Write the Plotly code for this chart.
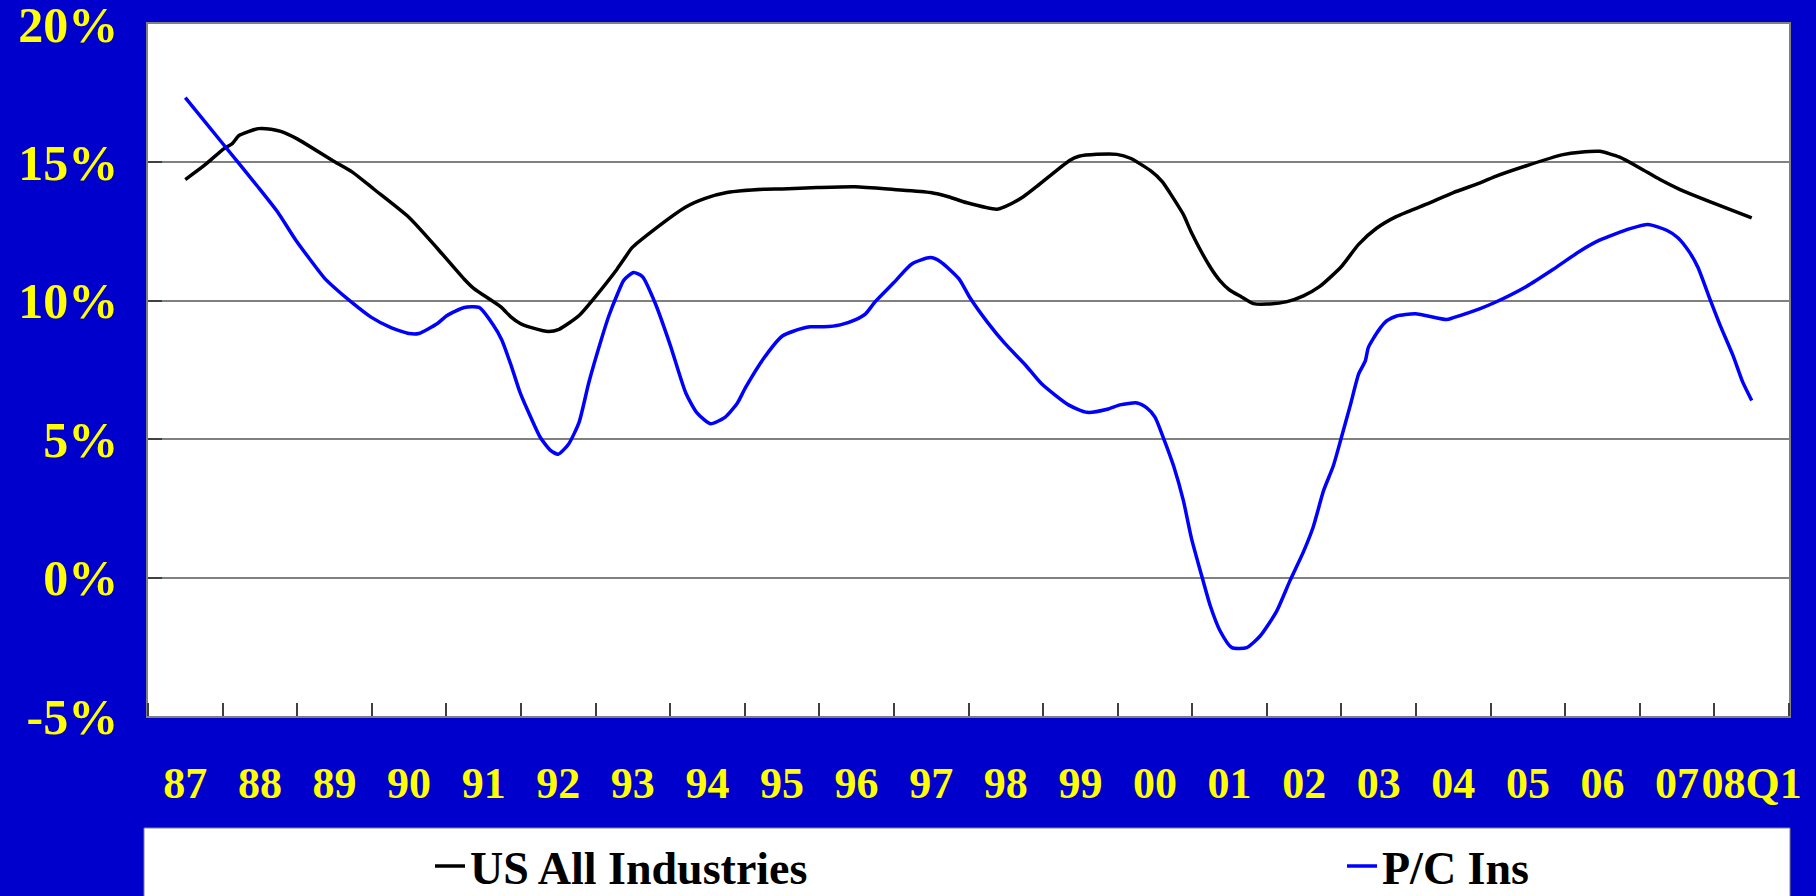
import plotly.graph_objects as go

# ---------------- data ----------------
year_labels = ["87", "88", "89", "90", "91", "92", "93", "94", "95", "96", "97",
               "98", "99", "00", "01", "02", "03", "04", "05", "06", "07", "08Q1"]
year_pos = [1987 + i for i in range(len(year_labels))]

y_ticks = [-5, 0, 5, 10, 15, 20]
y_tick_text = ["-5%", "0%", "5%", "10%", "15%", "20%"]

us_x = [0.00, 0.25, 0.52, 0.63, 0.72, 0.98, 1.15, 1.28, 1.50, 1.99, 2.24, 2.53, 3.00,
        3.38, 3.74, 3.87, 4.23, 4.36, 4.49, 4.63, 4.87, 5.01, 5.28, 5.48, 5.79, 5.88,
        5.99, 6.26, 6.71, 6.97, 7.26, 7.76, 8.00, 8.47, 8.98, 9.50, 9.99, 10.23, 10.48,
        10.88, 10.99, 11.24, 11.42, 11.86, 11.98, 12.22, 12.49, 12.67, 12.94, 13.10,
        13.20, 13.38, 13.49, 13.74, 13.87, 14.00, 14.16, 14.32, 14.50, 14.77, 14.99,
        15.21, 15.50, 15.73, 15.97, 16.24, 16.64, 17.00, 17.36, 17.54, 17.98, 18.47,
        18.70, 18.96, 19.23, 19.50, 19.77, 20.04, 20.48, 21.00]
us_y = [14.38, 14.88, 15.50, 15.68, 15.97, 16.22, 16.20, 16.12, 15.85, 15.04, 14.65, 14.03, 13.01,
        11.89, 10.78, 10.44, 9.78, 9.43, 9.18, 9.04, 8.89, 8.97, 9.47, 10.09, 11.15, 11.50,
        11.92, 12.52, 13.39, 13.70, 13.91, 14.03, 14.04, 14.09, 14.12, 14.02, 13.91, 13.76, 13.54,
        13.31, 13.40, 13.77, 14.14, 15.08, 15.22, 15.29, 15.29, 15.15, 14.70, 14.30,
        13.90, 13.12, 12.46, 11.22, 10.73, 10.39, 10.14, 9.90, 9.88, 9.97, 10.18,
        10.52, 11.24, 12.04, 12.62, 13.05, 13.49, 13.91, 14.26, 14.47, 14.88, 15.28,
        15.37, 15.40, 15.19, 14.80, 14.38, 14.02, 13.54, 13.00]

pc_x = [0.00, 0.52, 0.97, 1.24, 1.48, 1.86, 1.99, 2.22, 2.49, 2.75, 3.00, 3.13, 3.38, 3.51,
        3.74, 3.94, 4.12, 4.24, 4.37, 4.49, 4.63, 4.76, 4.90, 5.00, 5.14, 5.28, 5.41, 5.57,
        5.68, 5.79, 5.88, 6.01, 6.13, 6.30, 6.50, 6.71, 6.86, 7.04, 7.24, 7.40, 7.51, 7.76,
        8.00, 8.16, 8.38, 8.56, 8.78, 8.98, 9.12, 9.25, 9.50, 9.74, 9.99, 10.12, 10.37,
        10.52, 10.75, 10.99, 11.26, 11.48, 11.84, 12.09, 12.36, 12.53, 12.76, 12.89, 13.00,
        13.11, 13.25, 13.38, 13.49, 13.63, 13.74, 13.87, 14.03, 14.23, 14.41, 14.63, 14.81,
        14.99, 15.12, 15.26, 15.39, 15.50, 15.62, 15.73, 15.82, 15.86, 16.00, 16.11, 16.24,
        16.49, 16.91, 17.00, 17.36, 17.54, 17.98, 18.34, 18.70, 18.96, 19.37, 19.61, 19.86,
        20.01, 20.17, 20.28, 20.44, 20.57, 20.75, 20.88, 21.00]
pc_y = [17.34, 15.62, 14.13, 13.20, 12.20, 10.84, 10.50, 9.97, 9.41, 9.04, 8.82, 8.82, 9.18, 9.47,
        9.76, 9.76, 9.16, 8.60, 7.65, 6.67, 5.80, 5.06, 4.59, 4.46, 4.83, 5.62, 7.05, 8.54,
        9.47, 10.22, 10.75, 11.02, 10.87, 9.91, 8.41, 6.67, 5.95, 5.56, 5.80, 6.30, 6.86, 7.94,
        8.72, 8.91, 9.06, 9.06, 9.13, 9.31, 9.53, 9.97, 10.66, 11.33, 11.56, 11.42, 10.80,
        10.11, 9.24, 8.45, 7.69, 7.00, 6.24, 5.97, 6.08, 6.24, 6.31, 6.13, 5.80,
        5.07, 4.03, 2.79, 1.41, 0.03, -1.01, -1.91, -2.53, -2.53, -2.11, -1.22, -0.11,
        0.93, 1.82, 3.14, 4.03, 5.07, 6.24, 7.35, 7.83, 8.31, 8.94, 9.28, 9.45,
        9.53, 9.32, 9.39, 9.72, 9.92, 10.52, 11.14, 11.80, 12.19, 12.61, 12.76, 12.55,
        12.28, 11.74, 11.20, 10.06, 9.16, 8.02, 7.06, 6.40]

series_names = ["US All Industries", "P/C Ins"]

# ---------------- figure ----------------
W, H = 1816, 896
ML, MR, MT, MB = 148, 27, 24, 180
BG = "#0000CC"
YEL = "#FFFF00"
FONT = "Liberation Serif, Times New Roman, serif"

fig = go.Figure()
fig.add_trace(go.Scatter(
    x=[1987 + v for v in us_x], y=us_y, name=series_names[0], mode="lines",
    line=dict(color="#000000", width=3.5, shape="spline", smoothing=0.6),
    legend="legend"))
fig.add_trace(go.Scatter(
    x=[1987 + v for v in pc_x], y=pc_y, name=series_names[1], mode="lines",
    line=dict(color="#0000FF", width=3.5, shape="spline", smoothing=0.6),
    legend="legend2"))

plot_w = W - ML - MR
plot_h = H - MT - MB

def px_x(p):
    return (p - ML) / plot_w

def px_y(p):
    return (H - MB - p) / plot_h

# white legend box
fig.add_shape(type="rect", xref="paper", yref="paper",
              x0=px_x(144), x1=px_x(1790), y0=px_y(905), y1=px_y(828),
              fillcolor="white", line=dict(color="#808080", width=1), layer="below")

legend_font = dict(family=FONT, size=46, color="#000000", weight="bold")

fig.update_layout(
    width=W, height=H, autosize=False,
    paper_bgcolor=BG, plot_bgcolor="white",
    margin=dict(l=ML, r=MR, t=MT, b=MB, autoexpand=False),
    showlegend=True,
    legend=dict(x=px_x(430), y=px_y(866), xanchor="left", yanchor="middle",
                orientation="h", bgcolor="rgba(0,0,0,0)", font=legend_font,
                itemwidth=30),
    legend2=dict(x=px_x(1342), y=px_y(866), xanchor="left", yanchor="middle",
                 orientation="h", bgcolor="rgba(0,0,0,0)", font=legend_font,
                 itemwidth=30),
    xaxis=dict(
        range=[1986.5, 2008.5], tickmode="array", tickvals=year_pos, ticktext=year_labels,
        tickangle=0, ticks="", showgrid=False, zeroline=False, automargin=False,
        showline=True, linecolor="#808080", linewidth=1.5, mirror=True,
        tickfont=dict(family=FONT, size=44, color=YEL, weight="bold"),
        ticklabelstandoff=27, ticklabeloverflow="allow",
        minor=dict(tick0=1986.5, dtick=1, ticks="inside", ticklen=13,
                   tickcolor="#404040", tickwidth=1.5, showgrid=False),
    ),
    yaxis=dict(
        range=[-5, 20], tickmode="array", tickvals=y_ticks, ticktext=y_tick_text,
        ticks="inside", ticklen=14, tickcolor="#404040", tickwidth=1.5, automargin=False,
        showgrid=True, gridcolor="#808080", gridwidth=1.5, zeroline=False,
        showline=True, linecolor="#808080", linewidth=1.5, mirror=True,
        tickfont=dict(family=FONT, size=50, color=YEL, weight="bold"),
        ticklabelstandoff=18, ticklabeloverflow="allow",
    ),
)

fig.write_html("out.html",
               config={"displayModeBar": False},
               post_script="document.body.style.margin='0';document.body.style.overflow='hidden';")
